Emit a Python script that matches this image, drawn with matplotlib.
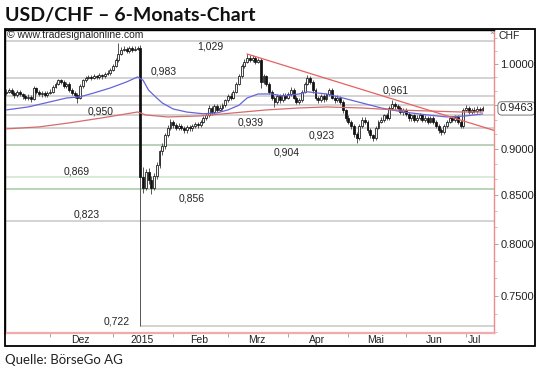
import numpy as np
import pandas as pd
import matplotlib
matplotlib.use('Agg')
import matplotlib.pyplot as plt
from matplotlib.patches import Rectangle
from matplotlib.ticker import FixedLocator, NullFormatter

# ---------------- data ----------------
dates = pd.bdate_range('2014-11-07', '2015-07-09')

opens = [.964,.966,.968,.965,.962,.966,.963,.961,.959,.960,
         .957,.971,.966,.963,.965,.962,.965,.966,.972,.976,
         .980,.978,.973,.976,.968,.965,.962,.959,.973,.980,
         .983,.984,.983,.985,.984,.986,.985,.988,.989,.993,
         .998,1.005,1.013,1.018,1.019,1.016,1.020,1.018,1.019,1.020,
         .869,.857,.874,.866,.857,.870,.882,.897,.903,.916,
         .924,.931,.927,.924,.926,.924,.921,.925,.923,.926,
         .928,.927,.931,.935,.938,.947,.942,.949,.945,.947,
         .950,.956,.961,.959,.966,.976,.985,.998,1.003,1.008,
         1.005,1.008,1.003,1.005,.978,.985,.976,.966,.959,.954,
         .961,.956,.962,.959,.963,.968,.959,.954,.956,.966,
         .976,.983,.978,.968,.959,.956,.961,.957,.963,.968,
         .959,.956,.959,.954,.944,.935,.931,.926,.917,.912,
         .926,.933,.931,.921,.915,.912,.924,.931,.933,.938,
         .935,.947,.952,.949,.947,.942,.945,.940,.935,.938,
         .933,.935,.938,.933,.935,.931,.935,.931,.926,.921,
         .919,.926,.931,.935,.933,.936,.931,.926,.945,.947,
         .942,.945,.943,.946,.945]
highs = [.969,.971,.970,.967,.968,.968,.965,.963,.963,.962,
         .973,.972,.968,.967,.967,.967,.969,.974,.978,.982,
         .982,.980,.978,.978,.970,.967,.964,.975,.982,.985,
         .987,.986,.988,.987,.989,.988,.990,.992,.995,1.000,
         1.007,1.027,1.021,1.022,1.021,1.022,1.022,1.022,1.023,1.024,
         .880,.878,.879,.870,.873,.885,.899,.906,.918,.927,
         .934,.933,.929,.929,.928,.926,.927,.927,.928,.930,
         .931,.933,.937,.941,.950,.949,.951,.951,.950,.953,
         .958,.963,.964,.968,.978,.988,1.000,1.006,1.013,1.011,
         1.011,1.010,1.008,1.007,.988,.987,.978,.968,.961,.963,
         .963,.964,.964,.966,.972,.970,.961,.959,.968,.978,
         .986,.985,.980,.970,.961,.963,.963,.965,.971,.970,
         .961,.962,.961,.956,.946,.938,.933,.928,.919,.928,
         .936,.936,.933,.923,.917,.926,.933,.936,.940,.941,
         .949,.956,.954,.952,.949,.947,.947,.942,.940,.940,
         .938,.941,.940,.938,.937,.937,.937,.933,.928,.923,
         .928,.933,.937,.937,.938,.938,.933,.947,.950,.949,
         .947,.948,.949,.948,.949]
lows = [.962,.964,.962,.959,.960,.961,.958,.956,.956,.954,
        .956,.963,.961,.960,.960,.960,.963,.964,.970,.974,
        .975,.971,.970,.966,.962,.959,.953,.958,.971,.978,
        .981,.980,.981,.981,.982,.982,.983,.986,.987,.991,
        .996,1.003,1.011,1.016,1.014,1.014,1.015,1.016,1.017,.722,
        .852,.855,.862,.851,.855,.867,.879,.893,.900,.913,
        .921,.924,.921,.921,.921,.918,.918,.920,.920,.923,
        .924,.925,.929,.933,.936,.939,.940,.942,.943,.945,
        .948,.954,.956,.957,.964,.974,.983,.995,1.001,1.002,
        1.003,1.000,1.001,.970,.975,.973,.963,.956,.948,.952,
        .953,.954,.956,.957,.961,.957,.951,.952,.954,.964,
        .974,.975,.965,.956,.953,.954,.954,.955,.961,.957,
        .953,.954,.951,.941,.932,.928,.922,.913,.906,.910,
        .924,.928,.918,.912,.909,.910,.922,.929,.931,.933,
        .933,.945,.946,.944,.940,.939,.937,.932,.932,.930,
        .930,.933,.930,.931,.928,.929,.928,.923,.918,.916,
        .917,.924,.929,.930,.931,.928,.923,.924,.943,.940,
        .940,.941,.941,.942,.943]
closes = [.966,.968,.965,.962,.966,.963,.961,.959,.960,.957,
          .971,.966,.963,.965,.962,.965,.966,.972,.976,.980,
          .978,.973,.976,.968,.965,.962,.959,.973,.980,.983,
          .984,.983,.985,.984,.986,.985,.988,.989,.993,.998,
          1.005,1.013,1.018,1.019,1.016,1.020,1.018,1.019,1.020,.869,
          .857,.874,.866,.857,.870,.882,.897,.903,.916,.924,
          .931,.927,.924,.926,.924,.921,.925,.923,.926,.928,
          .927,.931,.935,.938,.947,.942,.949,.945,.947,.950,
          .956,.961,.959,.966,.976,.985,.998,1.003,1.008,1.005,
          1.008,1.003,1.005,.978,.985,.976,.966,.959,.954,.961,
          .956,.962,.959,.963,.968,.959,.954,.956,.966,.976,
          .983,.978,.968,.959,.956,.961,.957,.963,.968,.959,
          .956,.959,.954,.944,.935,.931,.926,.917,.912,.926,
          .933,.931,.921,.915,.912,.924,.931,.933,.938,.935,
          .947,.952,.949,.947,.942,.945,.940,.935,.938,.933,
          .935,.938,.933,.935,.931,.935,.931,.926,.921,.919,
          .926,.931,.935,.933,.936,.931,.926,.945,.947,.942,
          .945,.943,.946,.945,.9463]

# fast moving average (blue), read at sample candles
ma_fast_idx = [0, 8, 16, 22, 27, 32, 38, 44, 48, 50, 52, 55, 57, 61, 66, 72, 77, 81, 85,
               88, 92, 97, 101, 107, 110, 117, 123, 130, 137, 145, 154, 161, 168, 174]
ma_fast_val = [.9445, .948, .954, .9586, .960, .9646, .9706, .978, .984, .980, .968, .9586,
               .9527, .9456, .942, .940, .941, .9445, .950, .9586, .9634, .9634, .961, .9634,
               .966, .9634, .9586, .9527, .9468, .9421, .9386, .9363, .9375, .9398]
# slow moving average (red)
ma_slow_idx = [0, 12, 23, 35, 48, 51, 59, 71, 83, 95, 107, 117, 130, 142, 154, 166, 174]
ma_slow_val = [.9225, .9248, .9294, .9352, .9421, .9386, .9363, .9375, .941, .9445, .9468,
               .948, .9468, .9445, .9433, .9421, .9421]
# down trend line (red)
trend_idx = [88, 178]
trend_val = [1.0125, 0.9210]

levels = [1.029, 0.983, 0.961, 0.950, 0.939, 0.923, 0.904, 0.869, 0.856, 0.823, 0.722]
level_texts = ['1,029', '0,983', '0,961', '0,950', '0,939', '0,923', '0,904',
               '0,869', '0,856', '0,823', '0,722']
last_price = 0.9463

month_labels = ['Dez', '2015', 'Feb', 'Mrz', 'Apr', 'Mai', 'Jun', 'Jul']
price_ticks = [0.75, 0.80, 0.85, 0.90, 0.95, 1.00]

# ---------------- layout / style ----------------
level_colors = ['#c8c8c8'] * 6 + ['#a8c2a8', '#cfe3cf', '#a2c9a2', '#c8c8c8', '#c8c8c8']
level_start = [-1] * 10 + [49]
label_x = [74.5, 57.7, 142.4, 34.6, 89.4, 115.4, 102.6, 25.9, 67.9, 29.5, 40.5]
label_dy = [-6, 6, 5, -6, -8, -7, -7, 5, -9, 6, 5]   # pixels

W, H = 540, 372
fig = plt.figure(figsize=(W / 100, H / 100), dpi=100)
L, R, T, B = 5, 494, 30, 333
ax = fig.add_axes([L / W, 1 - B / H, (R - L) / W, (B - T) / H])

o = np.array(opens); h = np.array(highs); lo = np.array(lows); c = np.array(closes)
x = np.arange(len(c))

ax.set_yscale('log')
ax.set_ylim(0.7159, 1.0431)
ax.set_xlim(-0.45, 178.2)

# levels
for lv, col, st in zip(levels, level_colors, level_start):
    ax.hlines(lv, st, 178.2, color=col, lw=1.1, zorder=1)
for lv, t, lx, dy in zip(levels, level_texts, label_x, label_dy):
    ax.annotate(t, xy=(lx, lv), xytext=(0, dy * 0.72), textcoords='offset points',
                ha='center', va='center', fontsize=7.5, family='Liberation Sans',
                color='#222222', zorder=6)

# candles
ax.vlines(x, lo, h, color='#555555', lw=0.7, zorder=3)
up = c >= o
ax.bar(x[up], (c - o)[up], bottom=o[up], width=0.7, color='#f4f4f4',
       edgecolor='#111111', lw=0.55, zorder=4)
ax.bar(x[~up], (o - c)[~up], bottom=c[~up], width=0.7, color='#111111',
       edgecolor='#111111', lw=0.55, zorder=4)

# averages and trend line
ax.plot(ma_fast_idx, ma_fast_val, color='#6464dc', lw=0.9, zorder=5)
ax.plot(ma_slow_idx, ma_slow_val, color='#d86a6a', lw=0.9, zorder=5)
ax.plot(trend_idx, trend_val, color='#e86060', lw=0.9, zorder=5)

# x axis: month starts as ticks, labels centred in month
months = dates.to_period('M')
starts = [i for i in range(1, len(dates)) if months[i] != months[i - 1]]
bounds = starts + [len(dates)]
mids = [(bounds[k] + bounds[k + 1] - 1) / 2 for k in range(len(starts))]
ax.set_xticks(starts)
ax.set_xticklabels([''] * len(starts))
ax.set_xticks(mids, minor=True)
ax.set_xticklabels(month_labels, minor=True)
ax.tick_params(axis='x', which='major', length=3, width=0.6, color='#999999', direction='out')
ax.tick_params(axis='x', which='minor', length=0, pad=1.5, labelsize=7.5, labelcolor='#222222')
for lab in ax.get_xticklabels(minor=True):
    lab.set_family('Liberation Sans')

# y axis on right
ax.yaxis.tick_right()
ax.yaxis.set_major_locator(FixedLocator(price_ticks))
ax.set_yticklabels(['' if abs(v - 0.95) < 1e-9 else f'{v:.4f}' for v in price_ticks])
ax.yaxis.set_minor_locator(FixedLocator(np.arange(0.7 + 0.05 / 3, 1.05, 0.05 / 3)))
ax.yaxis.set_minor_formatter(NullFormatter())
ax.tick_params(axis='y', which='major', length=3, width=0.6, color='#999999',
               labelsize=8, labelcolor='#222222', pad=1.5)
ax.tick_params(axis='y', which='minor', length=2, width=0.5, color='#aaaaaa')
for lab in ax.get_yticklabels():
    lab.set_family('Liberation Sans')

for s in ['top', 'left']:
    ax.spines[s].set_color('black'); ax.spines[s].set_linewidth(1.0)
ax.spines['bottom'].set_color('#f2aaaa'); ax.spines['bottom'].set_linewidth(1.6)
ax.spines['right'].set_color('#ee8a8a'); ax.spines['right'].set_linewidth(1.0)

# last-price bubble
ax.annotate(f'{last_price:.4f}', xy=(1.0, last_price), xycoords=('axes fraction', 'data'),
            xytext=(4, 0), textcoords='offset points', ha='left', va='center',
            fontsize=8, family='Liberation Sans', color='#222222',
            bbox=dict(boxstyle='round,pad=0.15,rounding_size=0.35', fc='white',
                      ec='#777777', lw=0.7), annotation_clip=False, zorder=7)

# outer frame
fig.add_artist(Rectangle((L / W, 1 - 346 / H), (535 - L) / W, (346 - 29) / H,
                         transform=fig.transFigure, fill=False, ec='black', lw=1.3))

# texts
fig.text(5 / W, 1 - 15 / H, 'USD/CHF – 6-Monats-Chart', fontsize=14, fontweight='bold',
         family='Lato', ha='left', va='center', color='#111111')
fig.text(5 / W, 1 - 360 / H, 'Quelle: BörseGo AG', fontsize=9.5, family='Lato',
         ha='left', va='center', color='#222222')
fig.text(7 / W, 1 - 35 / H, '© www.tradesignalonline.com', fontsize=7.5,
         family='Liberation Sans', ha='left', va='center', color='#222222')
fig.text(498 / W, 1 - 36 / H, 'CHF', fontsize=7.5, family='Liberation Sans',
         ha='left', va='center', color='#222222')
fig.text(489 / W, 1 - 33 / H, '×', fontsize=6, family='Liberation Sans',
         ha='left', va='center', color='#888888')

fig.savefig('out.png', dpi=100)
